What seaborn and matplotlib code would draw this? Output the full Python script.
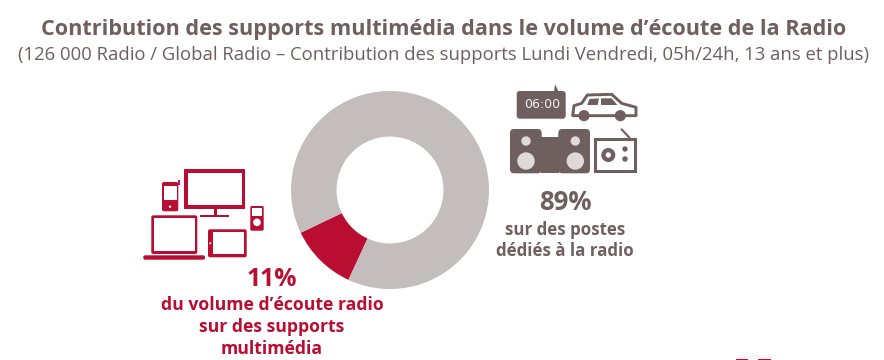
import matplotlib
matplotlib.use("Agg")
import matplotlib.pyplot as plt
from matplotlib.patches import Circle, FancyBboxPatch, Polygon, Rectangle
import seaborn as sns

# ===== DATA =====
supports = ["Supports multimédia", "Postes dédiés à la radio"]
parts = [11, 89]
title = "Contribution des supports multimédia dans le volume d’écoute de la Radio"
subtitle = "(126 000 Radio / Global Radio – Contribution des supports Lundi Vendredi, 05h/24h, 13 ans et plus)"
label_multimedia = ["11%", "du volume d’écoute radio", "sur des supports", "multimédia"]
label_radio = ["89%", "sur des postes", "dédiés à la radio"]

RED = "#b90e32"
GREY = "#c3bdbd"
BROWN = "#6f5f5e"
LIGHT = "#dedad9"

sns.set_theme(style="white")
plt.rcParams["font.family"] = ["Open Sans", "DejaVu Sans"]
palette = sns.color_palette([RED, GREY])

W, H = 884, 360
fig = plt.figure(figsize=(W / 100, H / 100), dpi=100, facecolor="white")

# ===== Donut =====
ax = fig.add_axes([291 / W, (H - 289) / H, 198 / W, 198 / H])
ax.pie(parts, colors=palette, startangle=205.6, radius=1,
       wedgeprops={"width": 0.46, "linewidth": 0})
ax.set_xlim(-1, 1)
ax.set_ylim(-1, 1)

# ===== Calque en pixels pour textes et icônes =====
bg = fig.add_axes([0, 0, 1, 1], zorder=5)
bg.set_xlim(0, W)
bg.set_ylim(H, 0)
bg.axis("off")
bg.patch.set_alpha(0)


def rect(x0, y0, x1, y1, color, r=0.0, z=2):
    if r > 0:
        p = FancyBboxPatch((x0 + r, y0 + r), x1 - x0 - 2 * r, y1 - y0 - 2 * r,
                           boxstyle=f"round,pad={r},rounding_size={r}",
                           fc=color, ec="none", zorder=z)
    else:
        p = Rectangle((x0, y0), x1 - x0, y1 - y0, fc=color, ec="none", zorder=z)
    bg.add_patch(p)


def disc(x, y, r, color, z=3):
    bg.add_patch(Circle((x, y), r, fc=color, ec="none", zorder=z))


def zoomed(points, ox=500, oy=75):
    return [(ox + x / 3, oy + y / 3) for x, y in points]


# textes
bg.text(443.5, 29.5, title, ha="center", va="center", fontsize=15.6,
        fontweight="bold", color=BROWN)
bg.text(443, 54.5, subtitle, ha="center", va="center", fontsize=13.35, color=BROWN)

bg.text(272, 280, label_multimedia[0], ha="center", va="center", fontsize=17.8,
        fontweight="bold", color=RED)
for y, line in zip([305, 327, 349], label_multimedia[1:]):
    bg.text(272, y, line, ha="center", va="center", fontsize=12.7,
            fontweight="bold", color=RED)

bg.text(565, 203, label_radio[0], ha="center", va="center", fontsize=18.5,
        fontweight="bold", color=BROWN)
for y, line in zip([230, 251], label_radio[1:]):
    bg.text(565, y, line, ha="center", va="center", fontsize=12.2,
            fontweight="bold", color=BROWN)

# ===== Icônes multimédia =====
# écran
rect(184.3, 169, 245, 208.5, RED)
rect(187.5, 172.5, 241.5, 204.8, "white", z=3)
rect(213.5, 208, 216.5, 215, RED)
rect(200, 214.7, 229, 217, RED)
# téléphone
rect(162, 182, 178.3, 211.3, RED, r=2)
rect(164, 186, 176.7, 200, "white", z=3)
disc(170, 206.7, 1.2, "white")
rect(177.7, 180, 179.7, 185, "#d0107a")
# portable
rect(151.3, 215.3, 197.3, 254, RED, r=2)
rect(154, 218.3, 194.7, 250.7, "white", z=3)
rect(143.3, 255.3, 205, 259.7, RED, r=1.8)
# tablette
rect(208, 229.3, 246.7, 257.3, RED, r=2)
rect(212.7, 232, 244.3, 254.3, "white", z=3)
disc(210.3, 243.3, 1.0, "white")
# baladeur
rect(250.3, 206, 263.7, 230.7, RED, r=1.5)
rect(252, 208, 262, 216, "white", z=3)
disc(257, 222.3, 3.8, "white")

# ===== Icônes radio =====
# radio-réveil
bg.add_patch(Polygon(zoomed([(165, 28), (162, 50), (176, 50)]), fc=BROWN, ec="none"))
rect(516.7, 91, 565.7, 118.7, BROWN, r=3)
bg.text(541.7, 105, "06:00", ha="center", va="center", fontsize=9, color="#f2eeee",
        family=["Liberation Sans Narrow", "DejaVu Sans"])
# voiture
car = [(218, 122), (222, 92), (245, 85), (262, 60), (335, 58), (365, 85), (408, 97), (408, 122)]
bg.add_patch(Polygon(zoomed(car), fc="white", ec=BROWN, lw=2.1, joinstyle="round", zorder=2))
bg.add_patch(Polygon(zoomed([(268, 72), (297, 70), (293, 90), (262, 90)]), fc=BROWN, ec="none", zorder=3))
bg.add_patch(Polygon(zoomed([(303, 70), (335, 70), (352, 90), (303, 90)]), fc=BROWN, ec="none", zorder=3))
for wx, wy in zoomed([(252, 122), (361, 122)]):
    disc(wx, wy, 5.6, BROWN)
# chaîne hi-fi
rect(510, 129, 541.7, 173.3, BROWN, r=4)
rect(558.3, 129, 590, 173.3, BROWN, r=4)
rect(541, 136.7, 559, 172.7, BROWN)
for sx, sy, sr in [(526, 141, 4.7), (526, 161, 8.7), (575.3, 141, 4.7), (575.3, 161, 8.7)]:
    disc(sx, sy, sr, LIGHT)
# poste radio
bg.plot(*zip(*zoomed([(365, 163), (390, 190)])), color=BROWN, lw=1.5, zorder=2)
(rx, ry), (rx2, ry2) = zoomed([(285, 192), (404, 287)])
bg.add_patch(Rectangle((rx, ry), rx2 - rx, ry2 - ry, fc="white", ec=BROWN, lw=2.2, zorder=2))
disc(608.3, 155, 7, BROWN)
disc(608.3, 155, 2.7, "white", z=4)
disc(625, 149, 2.7, BROWN)
disc(625, 159, 2.7, BROWN)

# ===== Amorce de logo, bas à droite =====
rect(736.5, 355, 771, 358.6, "#fdf4f6")
rect(736, 358.6, 748, 360, RED)
rect(758, 358.6, 771, 360, RED)

plt.savefig("out.png", dpi=100, facecolor="white")
plt.close()
